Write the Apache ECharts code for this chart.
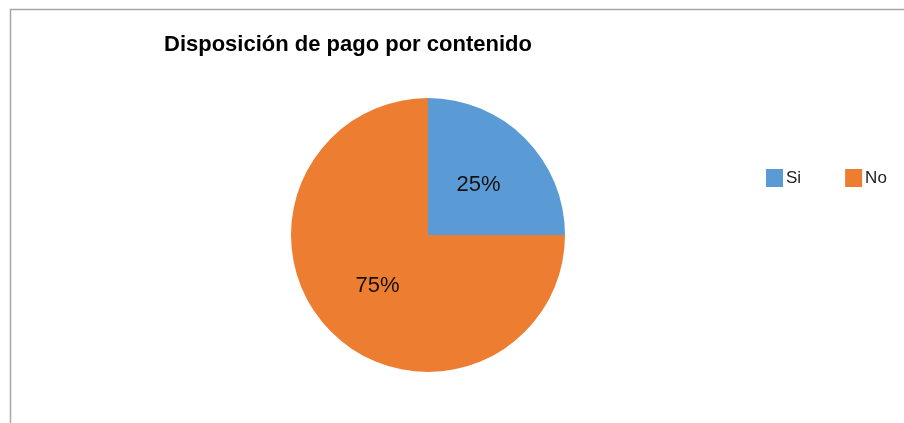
<!DOCTYPE html>
<html><head><meta charset="utf-8">
<script src="https://cdn.jsdelivr.net/npm/echarts@6/dist/echarts.min.js"></script>
<style>html,body{margin:0;padding:0;background:#fff}#c{width:904px;height:423px}</style>
</head><body><div id="c"></div>
<script>
const categories = ['Si', 'No'];
const values = [25, 75];
const colors = ['#5B9BD5', '#ED7D31'];
const titleText = 'Disposición de pago por contenido';

const chart = echarts.init(document.getElementById('c'), null, {renderer: 'canvas'});
chart.setOption({
  animation: false,
  backgroundColor: '#fff',
  title: {
    text: titleText, left: 164, top: 34, padding: 0,
    textStyle: {fontFamily: 'Liberation Sans', fontWeight: 'bold', fontSize: 22, color: '#000'}
  },
  legend: {
    data: categories, left: 766, top: 169, orient: 'horizontal', padding: 0,
    itemWidth: 17, itemHeight: 18, itemGap: 44, icon: 'rect',
    textStyle: {fontFamily: 'Liberation Sans', fontSize: 17, color: '#222', padding: [0,0,0,-2]}
  },
  graphic: [
    {type: 'polyline', shape: {points: [[10.5, 423], [10.5, 9.5], [904, 9.5]]}, style: {stroke: '#a6a6a6', lineWidth: 1.5, fill: null}, silent: true}
  ],
  series: [{
    type: 'pie', center: [428, 235], radius: 137, startAngle: 90, clockwise: true,
    data: categories.map((c, i) => ({name: c, value: values[i], itemStyle: {color: colors[i]}})),
    label: {show: true, position: 'inside', formatter: '{c}%', fontFamily: 'Liberation Sans', fontSize: 22, color: '#111'},
    labelLine: {show: false}, emphasis: {disabled: true}
  }]
});
</script></body></html>
